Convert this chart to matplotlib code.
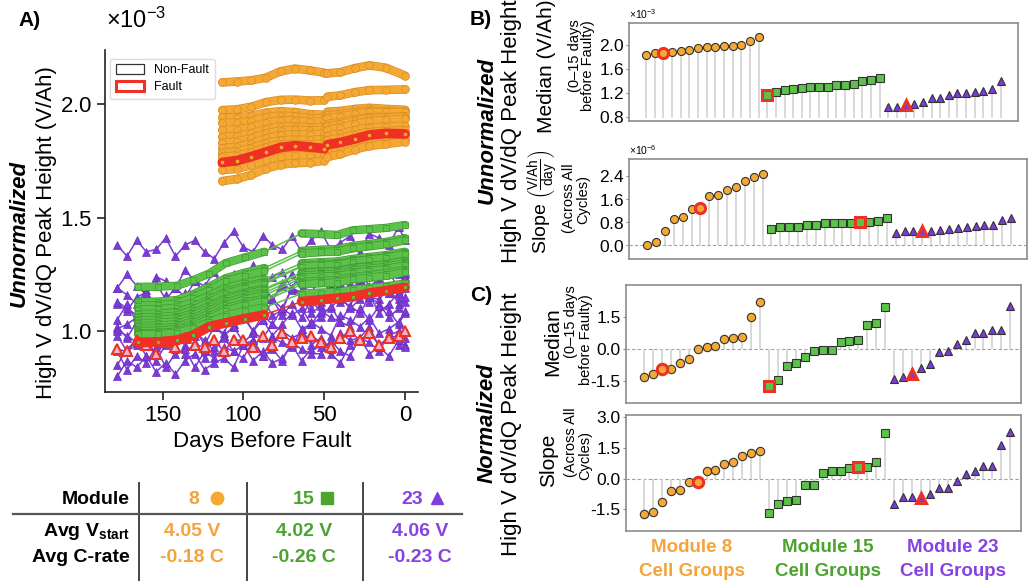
import numpy as np
import matplotlib.pyplot as plt
import matplotlib.patheffects as pe
from matplotlib.lines import Line2D
from matplotlib.patches import Patch
from matplotlib.ticker import ScalarFormatter

plt.rcParams['font.family'] = ['Liberation Sans', 'DejaVu Sans']
plt.rcParams['mathtext.fontset'] = 'custom'
plt.rcParams['mathtext.rm'] = 'Liberation Sans'
plt.rcParams['mathtext.it'] = 'Liberation Sans:italic'
plt.rcParams['mathtext.bf'] = 'Liberation Sans:bold'
plt.rcParams['axes.unicode_minus'] = False

W, H = 1028, 586

# module colours
C8, C15, C23 = '#F5A833', '#5CC24A', '#7B3BD6'
E8, E15, E23 = '#D88E25', '#3F9A33', '#6A2DC0'
T8, T15, T23 = '#F5A33B', '#4BA42D', '#8742E3'
RED = '#EE3124'

# ---------------- A) peak height vs days before fault (x1e-3 V/Ah) ----------------
m8_days = [113, 104, 95, 86, 77, 68, 59, 50, 48, 40, 31, 22, 12, 0]
m8_cells = [
    [2.097, 2.101, 2.106, 2.118, 2.146, 2.158, 2.150, 2.140, 2.137, 2.142, 2.160, 2.172, 2.162, 2.127],
    [1.975, 1.978, 1.990, 2.010, 2.020, 2.021, 2.017, 2.018, 2.034, 2.040, 2.054, 2.063, 2.064, 2.066],
    [1.943, 1.941, 1.949, 1.964, 1.970, 1.966, 1.957, 1.954, 1.968, 1.971, 1.980, 1.985, 1.980, 1.976],
    [1.919, 1.918, 1.927, 1.943, 1.950, 1.947, 1.939, 1.938, 1.952, 1.956, 1.966, 1.972, 1.969, 1.966],
    [1.887, 1.889, 1.900, 1.919, 1.929, 1.928, 1.923, 1.923, 1.939, 1.945, 1.957, 1.966, 1.965, 1.966],
    [1.857, 1.859, 1.872, 1.891, 1.902, 1.902, 1.898, 1.899, 1.914, 1.921, 1.935, 1.944, 1.944, 1.946],
    [1.831, 1.836, 1.850, 1.872, 1.884, 1.887, 1.884, 1.888, 1.903, 1.912, 1.927, 1.939, 1.941, 1.946],
    [1.806, 1.812, 1.827, 1.850, 1.864, 1.868, 1.866, 1.871, 1.887, 1.897, 1.913, 1.926, 1.930, 1.936],
    [1.787, 1.792, 1.807, 1.829, 1.841, 1.844, 1.842, 1.846, 1.862, 1.870, 1.886, 1.898, 1.901, 1.906],
    [1.769, 1.774, 1.788, 1.810, 1.823, 1.825, 1.823, 1.827, 1.843, 1.851, 1.867, 1.878, 1.881, 1.886],
    [1.735, 1.741, 1.757, 1.779, 1.793, 1.797, 1.796, 1.801, 1.817, 1.826, 1.843, 1.856, 1.860, 1.866],
    [1.710, 1.716, 1.732, 1.756, 1.770, 1.774, 1.773, 1.778, 1.794, 1.804, 1.822, 1.835, 1.839, 1.846],
    [1.662, 1.671, 1.690, 1.717, 1.734, 1.741, 1.743, 1.752, 1.768, 1.781, 1.801, 1.817, 1.825, 1.836],
]
m8_fault = [1.744, 1.752, 1.770, 1.790, 1.810, 1.818, 1.812, 1.805, 1.822, 1.832, 1.848, 1.865, 1.872, 1.870]

m15_days = [165, 153, 141, 131, 121, 111, 99, 87, 64, 52, 42, 32, 22, 12, 0]
m15_cells = [
    [1.195, 1.196, 1.200, 1.225, 1.254, 1.300, 1.325, 1.350, 1.431, 1.428, 1.424, 1.445, 1.450, 1.455, 1.468],
    [1.129, 1.130, 1.137, 1.163, 1.196, 1.233, 1.258, 1.278, 1.354, 1.359, 1.362, 1.376, 1.385, 1.393, 1.410],
    [1.112, 1.113, 1.121, 1.147, 1.181, 1.219, 1.244, 1.265, 1.342, 1.348, 1.351, 1.365, 1.374, 1.383, 1.400],
    [1.095, 1.096, 1.103, 1.126, 1.156, 1.189, 1.212, 1.230, 1.299, 1.304, 1.307, 1.319, 1.327, 1.335, 1.350],
    [1.075, 1.076, 1.083, 1.107, 1.139, 1.173, 1.197, 1.215, 1.287, 1.292, 1.295, 1.308, 1.316, 1.324, 1.340],
    [1.060, 1.061, 1.068, 1.094, 1.127, 1.164, 1.189, 1.208, 1.284, 1.290, 1.292, 1.306, 1.315, 1.323, 1.340],
    [1.048, 1.049, 1.056, 1.079, 1.111, 1.145, 1.169, 1.187, 1.258, 1.263, 1.265, 1.279, 1.286, 1.294, 1.310],
    [1.035, 1.036, 1.043, 1.068, 1.101, 1.137, 1.162, 1.181, 1.255, 1.261, 1.263, 1.277, 1.285, 1.294, 1.310],
    [1.022, 1.023, 1.030, 1.055, 1.089, 1.125, 1.150, 1.169, 1.244, 1.250, 1.253, 1.267, 1.275, 1.283, 1.300],
    [1.010, 1.011, 1.018, 1.044, 1.077, 1.114, 1.139, 1.158, 1.234, 1.240, 1.242, 1.256, 1.265, 1.273, 1.290],
    [1.000, 1.001, 1.008, 1.032, 1.065, 1.100, 1.124, 1.143, 1.216, 1.221, 1.224, 1.238, 1.246, 1.254, 1.270],
    [0.990, 0.991, 0.998, 1.022, 1.055, 1.090, 1.114, 1.133, 1.206, 1.211, 1.214, 1.228, 1.236, 1.244, 1.260],
    [0.985, 0.986, 0.992, 1.012, 1.039, 1.068, 1.089, 1.104, 1.165, 1.170, 1.172, 1.183, 1.190, 1.197, 1.210],
]
m15_fault = [0.950, 0.952, 0.960, 0.982, 1.020, 1.036, 1.055, 1.072, 1.130, 1.138, 1.145, 1.152, 1.168, 1.178, 1.193]

m23_days = [178, 172, 166, 160, 154, 148, 142, 136, 130, 124, 118, 112, 106, 100, 94, 88,
            82, 76, 70, 64, 58, 52, 46, 40, 34, 28, 22, 16, 10, 4, 0]
m23_cells = [
    [1.38, 1.33, 1.40, 1.35, 1.36, 1.41, 1.33, 1.38, 1.40, 1.35, 1.32, 1.39, 1.44, 1.37, 1.35, 1.42,
     1.38, 1.36, 1.42, 1.35, 1.40, 1.44, 1.36, 1.39, 1.42, 1.35, 1.43, 1.41, 1.38, 1.46, 1.40],
    [1.19, 1.25, 1.20, 1.16, 1.24, 1.22, 1.19, 1.27, 1.22, 1.20, 1.26, 1.18, 1.25, 1.22, 1.29, 1.20,
     1.24, 1.26, 1.19, 1.26, 1.23, 1.28, 1.24, 1.21, 1.30, 1.23, 1.26, 1.21, 1.28, 1.25, 1.25],
    [1.19, 1.16, 1.12, 1.18, 1.21, 1.14, 1.19, 1.15, 1.22, 1.17, 1.14, 1.21, 1.19, 1.24, 1.17, 1.21,
     1.14, 1.20, 1.25, 1.18, 1.21, 1.23, 1.17, 1.27, 1.21, 1.25, 1.20, 1.22, 1.26, 1.19, 1.26],
    [1.12, 1.09, 1.15, 1.17, 1.11, 1.16, 1.10, 1.15, 1.17, 1.20, 1.14, 1.12, 1.20, 1.17, 1.12, 1.19,
     1.14, 1.21, 1.18, 1.17, 1.21, 1.13, 1.20, 1.19, 1.16, 1.23, 1.18, 1.25, 1.17, 1.20, 1.24],
    [1.13, 1.10, 1.07, 1.05, 1.12, 1.08, 1.13, 1.17, 1.08, 1.11, 1.14, 1.09, 1.09, 1.15, 1.18, 1.12,
     1.14, 1.10, 1.19, 1.17, 1.10, 1.15, 1.18, 1.13, 1.18, 1.22, 1.13, 1.19, 1.17, 1.14, 1.23],
    [1.05, 1.12, 1.04, 1.07, 1.09, 1.01, 1.10, 1.08, 1.05, 1.13, 1.09, 1.04, 1.13, 1.08, 1.10, 1.14,
     1.07, 1.09, 1.19, 1.15, 1.08, 1.11, 1.16, 1.14, 1.11, 1.20, 1.15, 1.14, 1.19, 1.12, 1.19],
    [1.01, 1.03, 1.06, 0.99, 1.04, 1.01, 1.10, 1.02, 1.05, 1.09, 1.04, 1.07, 1.03, 1.11, 1.09, 1.05,
     1.14, 1.07, 1.12, 1.06, 1.14, 1.08, 1.10, 1.15, 1.10, 1.14, 1.16, 1.08, 1.12, 1.17, 1.13],
    [1.02, 0.97, 1.04, 1.00, 0.98, 1.03, 1.01, 1.08, 0.98, 1.04, 1.02, 0.99, 1.09, 1.06, 1.00, 1.07,
     1.03, 1.10, 1.07, 1.10, 1.03, 1.06, 1.11, 1.04, 1.11, 1.08, 1.15, 1.12, 1.06, 1.10, 1.15],
    [1.00, 0.98, 0.95, 1.03, 0.96, 1.01, 0.96, 1.00, 1.01, 0.94, 1.02, 0.98, 1.02, 1.07, 1.00, 1.05,
     0.98, 1.03, 1.08, 1.01, 1.03, 1.09, 1.06, 1.04, 1.02, 1.10, 1.05, 1.11, 1.09, 1.03, 1.08],
    [0.98, 0.91, 0.94, 0.96, 0.90, 0.99, 0.97, 0.94, 0.99, 0.96, 0.91, 0.98, 1.02, 0.95, 0.99, 0.97,
     1.03, 1.00, 0.97, 0.99, 1.04, 1.01, 0.98, 1.07, 1.05, 1.02, 1.06, 0.99, 1.01, 1.04, 1.09],
    [0.85, 0.92, 0.96, 0.89, 0.87, 0.94, 0.92, 0.90, 0.95, 0.88, 0.93, 0.97, 0.91, 0.94, 0.96, 0.89,
     0.97, 0.95, 0.93, 1.01, 0.94, 0.97, 0.92, 0.99, 0.96, 0.97, 1.02, 0.93, 0.98, 1.00, 0.97],
    [0.91, 0.83, 0.89, 0.86, 0.93, 0.84, 0.90, 0.92, 0.84, 0.91, 0.88, 0.93, 0.91, 0.88, 0.96, 0.89,
     0.92, 0.87, 0.95, 0.92, 0.90, 0.90, 0.96, 0.91, 0.89, 0.97, 0.95, 0.91, 0.99, 0.94, 0.94],
    [0.80, 0.87, 0.84, 0.89, 0.82, 0.86, 0.81, 0.87, 0.90, 0.83, 0.86, 0.88, 0.84, 0.94, 0.87, 0.91,
     0.86, 0.88, 0.94, 0.87, 0.92, 0.93, 0.90, 0.86, 0.94, 0.97, 0.90, 0.93, 0.89, 0.96, 0.93],
]
m23_fault = [0.92, 0.91, 0.96, 0.94, 0.90, 0.95, 0.93, 0.97, 0.94, 0.93, 0.96, 0.91, 0.96, 0.96, 0.93, 0.98,
             0.94, 0.99, 0.95, 0.97, 0.98, 0.95, 0.93, 0.97, 1.00, 0.96, 0.99, 0.94, 0.97, 0.98, 1.00]

# ---------------- B) / C) per cell group summaries ----------------
med_m8 = [1.84, 1.86, 1.87, 1.88, 1.90, 1.92, 1.95, 1.96, 1.96, 1.98, 1.99, 2.00, 2.07, 2.13]
med_m15 = [1.17, 1.21, 1.25, 1.26, 1.28, 1.30, 1.30, 1.30, 1.33, 1.33, 1.34, 1.39, 1.41, 1.45]
med_m23 = [0.96, 0.97, 0.99, 1.02, 1.05, 1.11, 1.12, 1.17, 1.19, 1.19, 1.22, 1.23, 1.26, 1.39]
med_fault = [2, 0, 2]

slope_m8 = [0.02, 0.10, 0.50, 0.91, 0.97, 1.24, 1.28, 1.69, 1.75, 1.92, 2.03, 2.23, 2.36, 2.46]
slope_m15 = [0.58, 0.62, 0.64, 0.64, 0.70, 0.71, 0.76, 0.77, 0.77, 0.78, 0.80, 0.80, 0.84, 0.95]
slope_m23 = [0.42, 0.48, 0.48, 0.50, 0.50, 0.54, 0.56, 0.60, 0.64, 0.66, 0.71, 0.71, 0.87, 0.95]
slope_fault = [6, 10, 3]

nmed_m8 = [-1.32, -1.18, -0.96, -0.92, -0.67, -0.45, 0.00, 0.11, 0.14, 0.45, 0.50, 0.56, 1.51, 2.18]
nmed_m15 = [-1.74, -1.43, -0.82, -0.64, -0.40, -0.11, -0.06, -0.05, 0.30, 0.36, 0.42, 1.10, 1.23, 1.94]
nmed_m23 = [-1.42, -1.29, -1.17, -0.90, -0.72, -0.14, -0.11, 0.22, 0.42, 0.72, 0.72, 0.87, 0.90, 2.02]
nmed_fault = [2, 0, 2]

nslope_m8 = [-1.75, -1.65, -1.14, -0.59, -0.54, -0.18, -0.15, 0.36, 0.44, 0.70, 0.82, 1.11, 1.24, 1.37]
nslope_m15 = [-1.70, -1.22, -1.08, -1.03, -0.33, -0.31, 0.26, 0.36, 0.36, 0.52, 0.59, 0.59, 0.83, 2.25]
nslope_m23 = [-1.26, -0.91, -0.91, -0.93, -0.73, -0.47, -0.47, -0.11, 0.23, 0.36, 0.64, 0.64, 1.66, 2.28]
nslope_fault = [6, 10, 3]

modules = ['8', '15', '23']
avg_vstart = ['4.05 V', '4.02 V', '4.06 V']
avg_crate = ['-0.18 C', '-0.26 C', '-0.23 C']


fig = plt.figure(figsize=(W / 100, H / 100), dpi=100)


def px_axes(l, t, r, b):
    return fig.add_axes([l / W, 1 - b / H, (r - l) / W, (b - t) / H])


def ftext(x, y, s, **kw):
    kw.setdefault('ha', 'center')
    kw.setdefault('va', 'center')
    return fig.text(x / W, 1 - y / H, s, **kw)


def draw_cell(ax, days, vals, face, edge, marker, ms, band, segs, z, mec=None, mew=0.5):
    d = np.asarray(days, float)
    v = np.asarray(vals) * 1e-3
    ax.plot(d, v, color=face, lw=1.1, zorder=z)
    if band:
        for a, b in segs:
            ax.plot(d[a:b], v[a:b], color=face, lw=band, solid_capstyle='round', zorder=z,
                    path_effects=[pe.Stroke(linewidth=band + 1.0, foreground=edge), pe.Normal()])
    ax.plot(d, v, ls='none', marker=marker, ms=ms, mfc=face, mec=mec or edge, mew=mew, zorder=z)


# ---------------- panel A ----------------
axA = px_axes(105.3, 50, 418.3, 392.3)
seg8 = [(0, 8), (8, 14)]
seg15 = [(0, 8), (8, 15)]
for vals in m23_cells:
    draw_cell(axA, m23_days, vals, C23, E23, '^', 5.5, None, None, 2)
for vals in m15_cells:
    draw_cell(axA, m15_days, vals, C15, E15, 's', 5.0, 5.0, seg15, 3)
for vals in m8_cells:
    draw_cell(axA, m8_days, vals, C8, E8, 'o', 5.6, 5.2, seg8, 4)
d23 = np.asarray(m23_days, float)
axA.plot(d23, np.asarray(m23_fault) * 1e-3, color=C23, lw=1.1, zorder=5)
axA.plot(d23, np.asarray(m23_fault) * 1e-3, ls='none', marker='^', ms=7.5, mfc='#E9B7C9',
         mec=RED, mew=1.5, zorder=5)
draw_cell(axA, m15_days, m15_fault, RED, RED, 's', 4.0, 6.0, seg15, 6, mew=1.0)
axA.plot(m15_days, np.asarray(m15_fault) * 1e-3, ls='none', marker='s', ms=3.2, mfc=C15,
         mec=RED, mew=0.8, zorder=6)
draw_cell(axA, m8_days, m8_fault, RED, RED, 'o', 4.5, 6.0, seg8, 7, mew=1.0)
axA.plot(m8_days, np.asarray(m8_fault) * 1e-3, ls='none', marker='o', ms=3.5, mfc=C8,
         mec=RED, mew=0.8, zorder=7)

axA.set_xlim(185.4, -8.2)
axA.set_ylim(0.730e-3, 2.240e-3)
axA.set_xticks([150, 100, 50, 0])
axA.set_yticks([1.0e-3, 1.5e-3, 2.0e-3])
fmt = ScalarFormatter(useMathText=True)
fmt.set_powerlimits((0, 0))
axA.yaxis.set_major_formatter(fmt)
axA.yaxis.get_offset_text().set_visible(False)
for s in ['top', 'right']:
    axA.spines[s].set_visible(False)
for s in ['left', 'bottom']:
    axA.spines[s].set_linewidth(1.2)
    axA.spines[s].set_color('#222222')
axA.tick_params(labelsize=16, length=6, width=1.2, color='#222222')
axA.set_xlabel('Days Before Fault', fontsize=16, labelpad=3)
axA.legend(handles=[Patch(facecolor='white', edgecolor='#333333', lw=0.9, label='Non-Fault'),
                    Patch(facecolor='white', edgecolor=RED, lw=2.2, label='Fault')],
           loc='upper left', bbox_to_anchor=(0.015, 0.975), borderaxespad=0, fontsize=9,
           handlelength=2.3, handleheight=0.8, borderpad=0.45, labelspacing=0.4,
           edgecolor='#dddddd', framealpha=1)

ftext(106, 20, r'$\times10^{-3}$', fontsize=17, ha='left')
ftext(30, 20, 'A)', fontsize=15, fontweight='bold')
ftext(19, 233, 'Unnormalized', rotation=90, fontsize=16, fontweight='bold', fontstyle='italic')
ftext(47, 233, 'High V dV/dQ Peak Height (V/Ah)', rotation=90, fontsize=16)

# ---------------- table under A ----------------
for xv in [138.5, 247, 363]:
    fig.add_artist(Line2D([xv / W, xv / W], [1 - 483 / H, 1 - 580 / H], transform=fig.transFigure,
                          color='#444444', lw=1.4))
fig.add_artist(Line2D([13 / W, 462 / W], [1 - 514 / H, 1 - 514 / H], transform=fig.transFigure,
                      color='#555555', lw=1.6))
ftext(130, 499, 'Module', fontsize=14, fontweight='bold', ha='right')
ftext(130, 532, r'Avg V$_{\mathbf{start}}$', fontsize=14, fontweight='bold', ha='right')
ftext(130, 558, 'Avg C-rate', fontsize=14, fontweight='bold', ha='right')
col_x = [192, 304, 420]
sym_x = [217, 327, 437]
num_x = [194, 304, 412]
for i, (tc, fc, mk) in enumerate(zip([T8, T15, T23], [C8, '#4CA52E', '#7F3FE0'], ['o', 's', '^'])):
    ftext(num_x[i], 499, modules[i], fontsize=14, fontweight='bold', color=tc)
    fig.add_artist(Line2D([sym_x[i] / W], [1 - 498 / H], transform=fig.transFigure, marker=mk,
                          ms=9 if mk == 'o' else 8, color=fc, mec=fc, ls='none'))
    ftext(col_x[i], 532, avg_vstart[i], fontsize=14, fontweight='bold', color=tc)
    ftext(col_x[i], 558, avg_crate[i], fontsize=14, fontweight='bold', color=tc)


# ---------------- panels B and C ----------------
def lollipop(ax, groups, faults, base, scale, ms=6.0):
    start = 0
    for (vals, face, mk), fi in zip(groups, faults):
        x = np.arange(start, start + len(vals))
        v = np.asarray(vals) * scale
        ax.vlines(x, base * scale, v, color='#d6d6d6', lw=1.3, zorder=1)
        size = ms - 0.4 if mk == 's' else ms
        ax.plot(x, v, ls='none', marker=mk, ms=size, mfc=face, mec='#333333', mew=0.8, zorder=3)
        ax.plot(x[fi], v[fi], ls='none', marker=mk, ms=size + 1.5, mfc=face, mec=RED, mew=2.2,
                zorder=4)
        start += len(vals)


def style_box(ax, yticks, ylim, xlim, scale=None, zero=True):
    ax.set_xlim(*xlim)
    ax.set_ylim(*ylim)
    ax.set_xticks([])
    ax.set_yticks(yticks)
    for s in ax.spines.values():
        s.set_color('#8c8c8c')
        s.set_linewidth(1.2)
    ax.tick_params(axis='y', labelsize=12.5, length=2, color='#8c8c8c', pad=1.5)
    if scale:
        f = ScalarFormatter(useMathText=True)
        f.set_powerlimits((0, 0))
        ax.yaxis.set_major_formatter(f)
        ax.yaxis.get_offset_text().set_fontsize(7.5)
    if zero:
        ax.axhline(0, color='#a0a0a0', lw=0.8, ls=(0, (3, 2)), zorder=0)


axB1 = px_axes(629, 22.7, 1018, 120.7)
lollipop(axB1, [(med_m8, C8, 'o'), (med_m15, C15, 's'), (med_m23, C23, '^')], med_fault, 0.77, 1e-3, ms=5.8)
style_box(axB1, [0.8e-3, 1.2e-3, 1.6e-3, 2.0e-3], (0.733e-3, 2.373e-3), (-1.99, 43.0), scale=True, zero=False)

axB2 = px_axes(629, 159, 1027, 259)
lollipop(axB2, [(slope_m8, C8, 'o'), (slope_m15, C15, 's'), (slope_m23, C23, '^')], slope_fault, 0.0, 1e-6, ms=5.8)
style_box(axB2, [0.0, 0.8e-6, 1.6e-6, 2.4e-6], (-0.47e-6, 2.98e-6), (-2.05, 42.8), scale=True)

axC1 = px_axes(625.5, 285, 1021, 402.7)
lollipop(axC1, [(nmed_m8, C8, 'o'), (nmed_m15, C15, 's'), (nmed_m23, C23, '^')], nmed_fault, 0.0, 1.0)
style_box(axC1, [-1.5, 0.0, 1.5], (-2.51, 2.98), (-2.07, 42.2))

axC2 = px_axes(625.5, 414.7, 1021, 530.7)
lollipop(axC2, [(nslope_m8, C8, 'o'), (nslope_m15, C15, 's'), (nslope_m23, C23, '^')], nslope_fault, 0.0, 1.0)
style_box(axC2, [-1.5, 0.0, 1.5, 3.0], (-2.55, 3.13), (-2.07, 42.2))

# row / panel labels
ftext(481, 19.5, 'B)', fontsize=15, fontweight='bold')
ftext(481, 295, 'C)', fontsize=15, fontweight='bold')
ftext(487, 130, 'Unnormalized', rotation=90, fontsize=16, fontweight='bold', fontstyle='italic')
ftext(512, 131, 'High V dV/dQ Peak Height', rotation=90, fontsize=16)
ftext(487, 423, 'Normalized', rotation=90, fontsize=16, fontweight='bold', fontstyle='italic')
ftext(512, 424, 'High V dV/dQ Peak Height', rotation=90, fontsize=16)

ftext(546, 66, 'Median (V/Ah)', rotation=90, fontsize=15)
ftext(575, 56, '(0\u201315 days', rotation=90, fontsize=10.5)
ftext(588, 66, 'before Faulty)', rotation=90, fontsize=10.5)

ftext(543, 202, r'Slope $\left(\frac{\mathrm{V/Ah}}{\mathrm{day}}\right)$', rotation=90, fontsize=14)
ftext(569, 198, '(Across All', rotation=90, fontsize=10.5)
ftext(583, 200, 'Cycles)', rotation=90, fontsize=10.5)

ftext(553, 342, 'Median', rotation=90, fontsize=15)
ftext(571, 322, '(0\u201315 days', rotation=90, fontsize=10.5)
ftext(586, 340, 'before Faulty)', rotation=90, fontsize=10.5)

ftext(549, 460, 'Slope', rotation=90, fontsize=15)
ftext(571, 442, '(Across All', rotation=90, fontsize=10.5)
ftext(585, 455, 'Cycles)', rotation=90, fontsize=10.5)

for xc, tc, num in zip([692, 828, 953], [T8, T15, T23], modules):
    ftext(xc, 548, 'Module ' + num, fontsize=13.5, fontweight='bold', color=tc)
    ftext(xc, 572, 'Cell Groups', fontsize=13.5, fontweight='bold', color=tc)

fig.savefig('out.png', dpi=100)
